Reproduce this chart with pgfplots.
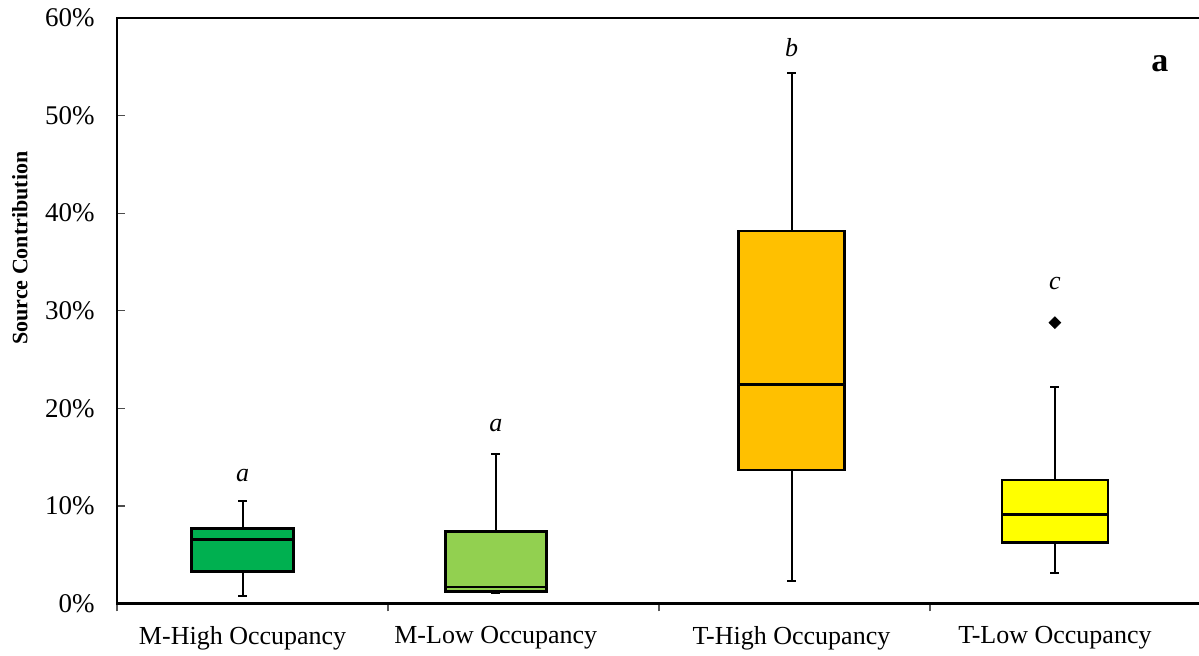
\documentclass[border=0pt]{standalone}
\usepackage{fontspec}
\setmainfont{Liberation Serif}
\usepackage{pgfplots}
\pgfplotsset{compat=1.18}
\usepgfplotslibrary{statistics}

\definecolor{mhigh}{HTML}{00B050}
\definecolor{mlow}{HTML}{92D050}
\definecolor{thigh}{HTML}{FFC000}
\definecolor{tlow}{HTML}{FFFF00}

\begin{document}
\begin{tikzpicture}
\path[use as bounding box] (-58.5pt,-26.25pt) rectangle (541pt,301.75pt);
\begin{axis}[
  at={(0,0)}, anchor=south west,
  scale only axis,
  width=542pt, height=292.75pt,
  xmin=0.5, xmax=4.5,
  ymin=0, ymax=60,
  axis line style={line width=1.1pt},
  % category separators
  xtick={0.5,1.5,2.5,3.5,4.5},
  xticklabels={},
  xtick align=outside,
  xtick pos=bottom,
  xtick style={draw=gray!70!black, line width=0.6pt},
  % category names under each box
  extra x ticks={0.9635,1.8978,2.989,3.961},
  extra x tick labels={M-High Occupancy,M-Low Occupancy,T-High Occupancy,T-Low Occupancy},
  extra x tick style={major tick length=0pt,
    xticklabel style={font=\fontsize{13}{15}\selectfont, yshift=-7.8pt}},
  ytick={0,10,20,30,40,50,60},
  yticklabels={0\%,10\%,20\%,30\%,40\%,50\%,60\%},
  yticklabel style={font=\fontsize{13.5}{15}\selectfont, xshift=-7.7pt},
  ytick pos=left,
  ytick align=inside,
  ytick style={draw=gray!60!black, line width=0.6pt},
  major tick length=4pt,
  ylabel={\bfseries Source Contribution},
  ylabel style={font=\fontsize{11}{13}\selectfont,
    at={(axis description cs:-0.0895,0.607)}, anchor=center},
  boxplot/draw direction=y,
  boxplot/every box/.style={line width=1.3pt},
  boxplot/every median/.style={line width=1.3pt},
  boxplot/every whisker/.style={line width=1pt},
  clip=false,
]
% M-High Occupancy
\addplot[draw=black, fill=mhigh, boxplot prepared={
  draw position=0.9635, box extend=0.375, whisker extend=0.033,
  lower whisker=0.80, lower quartile=3.25, median=6.58,
  upper quartile=7.67, upper whisker=10.5}] coordinates {};
% M-Low Occupancy
\addplot[draw=black, fill=mlow, boxplot prepared={
  draw position=1.8978, box extend=0.373, whisker extend=0.033,
  lower whisker=1.08, lower quartile=1.21, median=1.69,
  upper quartile=7.36, upper whisker=15.32}] coordinates {};
% T-High Occupancy
\addplot[draw=black, fill=thigh, boxplot prepared={
  draw position=2.989, box extend=0.39, whisker extend=0.033,
  lower whisker=2.34, lower quartile=13.68, median=22.46,
  upper quartile=38.17, upper whisker=54.34}] coordinates {};
% T-Low Occupancy
\addplot[draw=black, fill=tlow, boxplot prepared={
  draw position=3.961, box extend=0.391, whisker extend=0.033,
  lower whisker=3.16, lower quartile=6.23, median=9.14,
  upper quartile=12.66, upper whisker=22.22}] coordinates {};
% outlier of T-Low Occupancy
\addplot[only marks, mark=square*, mark size=2.05pt,
  mark options={rotate=45, fill=black, draw=black}] coordinates {(3.961,28.78)};

% group letters
\node[font=\fontsize{13}{15}\selectfont\itshape] at (axis cs:0.9635,13.07) {a};
\node[font=\fontsize{13}{15}\selectfont\itshape] at (axis cs:1.8978,18.2) {a};
\node[font=\fontsize{13}{15}\selectfont\itshape] at (axis cs:2.989,57.0) {b};
\node[font=\fontsize{13}{15}\selectfont\itshape] at (axis cs:3.961,32.74) {c};
\node[font=\fontsize{17}{19}\selectfont\bfseries] at (axis cs:4.348,55.3) {a};
\end{axis}
\end{tikzpicture}
\end{document}
